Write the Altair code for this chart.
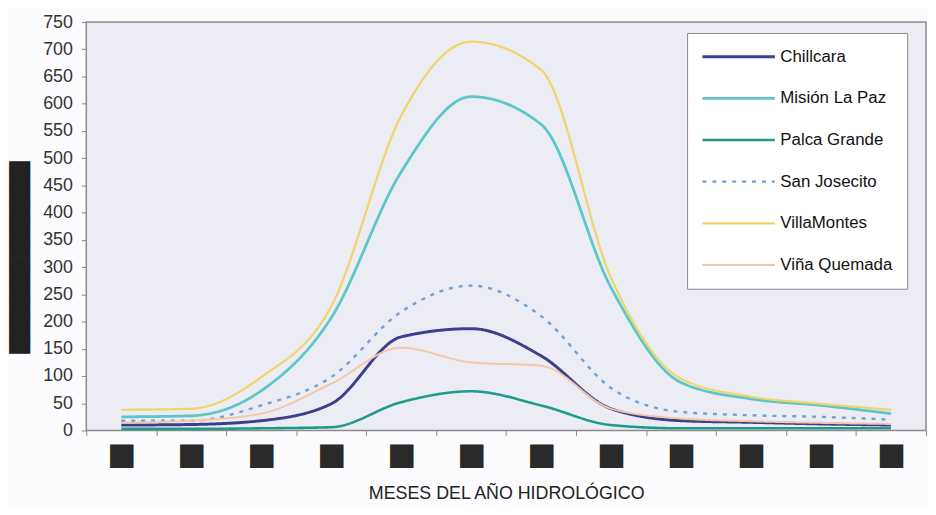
import altair as alt
import pandas as pd

# Months of the hydrological year (labels are redacted in the reference)
months = ["SEP", "OCT", "NOV", "DIC", "ENE", "FEB", "MAR", "ABR", "MAY", "JUN", "JUL", "AGO"]
stations = ["Chillcara", "Misión La Paz", "Palca Grande", "San Josecito", "VillaMontes", "Viña Quemada"]

chillcara = [10, 11, 18, 49, 172, 187, 137, 40, 18, 15, 12, 10]
mision_la_paz = [25, 27, 73, 207, 475, 613, 562, 262, 88, 58, 46, 31]
palca_grande = [3, 3, 4, 6, 52, 72, 46, 10, 4, 4, 4, 4]
san_josecito = [18, 18, 46, 98, 218, 266, 210, 78, 34, 28, 25, 20]
villamontes = [38, 40, 98, 228, 578, 714, 662, 280, 95, 62, 49, 38]
vina_quemada = [14, 18, 31, 86, 152, 125, 119, 40, 22, 17, 14, 12]

series = [chillcara, mision_la_paz, palca_grande, san_josecito, villamontes, vina_quemada]

colors = ["#3D3F8E", "#5CC6C8", "#229A8A", "#6FA0D8", "#F0D468", "#F5C6A5"]
dashes = [[1, 0], [1, 0], [1, 0], [4, 6], [1, 0], [1, 0]]
widths = [3, 2, 2.5, 2.5, 2, 2]

y_ticks = list(range(0, 751, 50))

x_title = "MESES DEL AÑO HIDROLÓGICO"
y_title = "█" * 14

rows = []
for name, vals in zip(stations, series):
    for m, v in zip(months, vals):
        rows.append({"mes": m, "estacion": name, "caudal": v})
df = pd.DataFrame(rows)

legend = alt.Legend(
    title=None,
    orient="none",
    legendX=606,
    legendY=11,
    direction="vertical",
    fillColor="white",
    strokeColor="#8A8A8A",
    padding=14,
    symbolType="stroke",
    symbolSize=5329,
    clipHeight=20,
    rowPadding=22,
    labelFont="Liberation Sans",
    labelFontSize=17,
    labelColor="#111111",
    labelOffset=4,
    labelLimit=300,
)

chart = (
    alt.Chart(df)
    .mark_line(interpolate="monotone")
    .encode(
        x=alt.X(
            "mes:O",
            sort=months,
            scale=alt.Scale(type="band", paddingInner=0, paddingOuter=0),
            axis=alt.Axis(
                title=x_title,
                titleFont="Liberation Sans",
                titleFontSize=18,
                titleFontWeight="normal",
                titleColor="#222222",
                titleY=64,
                titleBaseline="middle",
                labelExpr="(datum.extra || !datum.label) ? '' : '■'",
                labelFont="DejaVu Sans",
                labelFontSize=31,
                labelColor="#2A2A2A",
                labelAngle=0,
                labelPadding=4,
                labelBaseline="top",
                tickBand="extent",
                tickSize=5,
                tickColor="#888888",
                domain=False,
            ),
        ),
        y=alt.Y(
            "caudal:Q",
            scale=alt.Scale(domain=[0, 750], nice=False),
            axis=alt.Axis(
                values=y_ticks,
                title=y_title,
                titleFont="DejaVu Sans",
                titleFontSize=18,
                titleColor="#222222",
                titleAngle=270,
                titleAlign="center",
                titleBaseline="middle",
                titleX=-66,
                titleY=237,
                labelFont="Liberation Sans",
                labelFontSize=18,
                labelColor="#333333",
                labelPadding=9,
                tickSize=5,
                tickColor="#888888",
                grid=False,
                domain=False,
            ),
        ),
        color=alt.Color("estacion:N", scale=alt.Scale(domain=stations, range=colors), legend=legend),
        strokeDash=alt.StrokeDash("estacion:N", scale=alt.Scale(domain=stations, range=dashes), legend=legend),
        strokeWidth=alt.StrokeWidth("estacion:N", scale=alt.Scale(domain=stations, range=widths), legend=legend),
    )
    .properties(
        width=847,
        height=412,
        autosize=alt.AutoSizeParams(type="none"),
        padding={"left": 79, "top": 12, "right": 2, "bottom": 75},
        background="#FCFCFE",
    )
    .configure_view(fill="#ECEDF4", stroke="#8C8C8C", strokeWidth=1.5)
)

chart.save("out.html", embed_options={"renderer": "svg", "actions": False})
